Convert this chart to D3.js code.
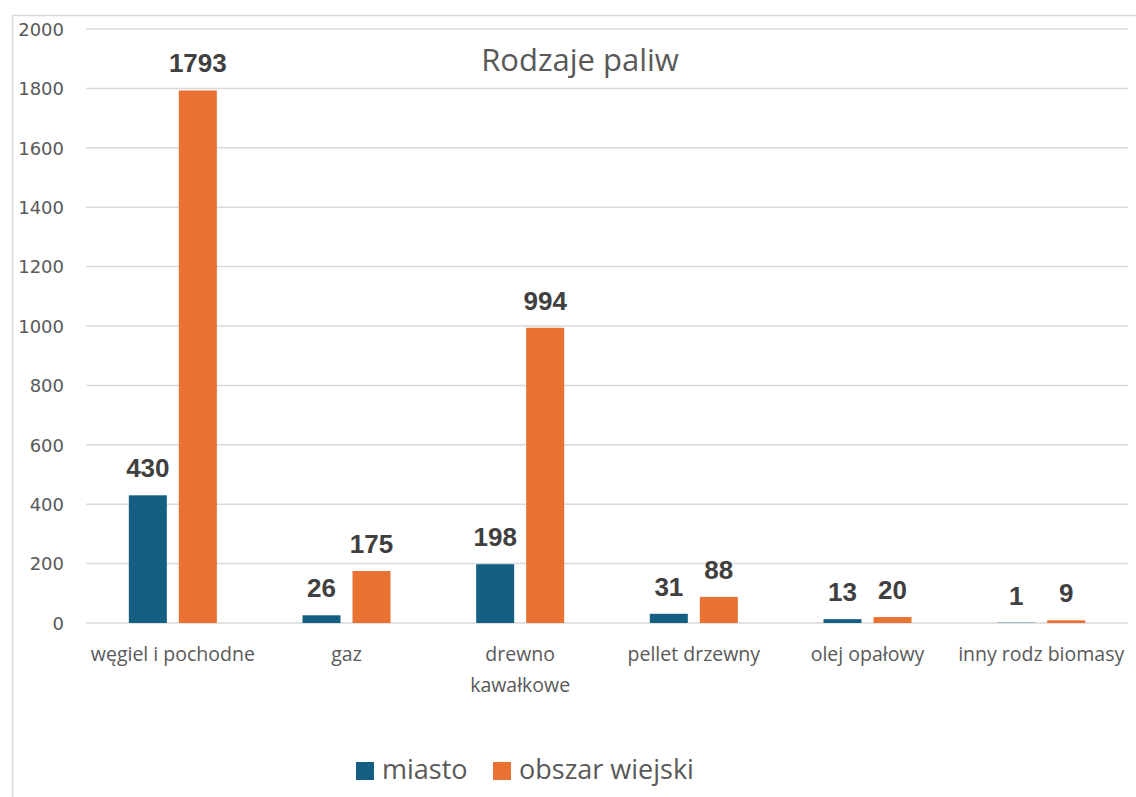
<!DOCTYPE html>
<html>
<meta charset="utf-8">
<style>
body { margin: 0; background: #fff; }
svg { display: block; }
.tick text { fill: #595959; font: 18px "DejaVu Sans", sans-serif; }
.cat { fill: #595959; font: 19.5px "Open Sans", sans-serif; }
.val { fill: #404040; font: bold 26px "Liberation Sans", Arial, sans-serif; }
.title { fill: #595959; font: 31px "Open Sans", sans-serif; }
.legend text { fill: #595959; font: 27px "Open Sans", sans-serif; }
</style>
<body>
<svg id="chart" width="1136" height="797"></svg>
<script src="https://d3js.org/d3.v7.min.js"></script>
<script>
var categories = ["węgiel i pochodne", "gaz", "drewno kawałkowe", "pellet drzewny", "olej opałowy", "inny rodz biomasy"];
var seriesNames = ["miasto", "obszar wiejski"];
var miasto = [430, 26, 198, 31, 13, 1];
var wiejski = [1793, 175, 994, 88, 20, 9];
var yTicks = [0, 200, 400, 600, 800, 1000, 1200, 1400, 1600, 1800, 2000];
var colors = ["#156082", "#E97132"];

var svg = d3.select("#chart");

// outer frame
svg.append("rect")
	.attr("x", 12.5).attr("y", 15.5)
	.attr("width", 1140).attr("height", 800)
	.attr("fill", "none").attr("stroke", "#d9d9d9").attr("stroke-width", 1.5);

var x = d3.scaleBand().domain(categories).range([86, 1128]);
var y = d3.scaleLinear().domain([0, 2000]).range([623, 29]);
var xs = d3.scaleBand().domain(seriesNames).range([-44, 44]).paddingInner(0.24).paddingOuter(0);

// gridlines
svg.append("g").selectAll("line")
	.data(yTicks)
	.enter().append("line")
	.attr("x1", 86).attr("x2", 1128)
	.attr("y1", function(d) { return y(d); })
	.attr("y2", function(d) { return y(d); })
	.attr("stroke", "#d9d9d9").attr("stroke-width", 1.5);

// y axis
var yAxis = svg.append("g")
	.attr("transform", "translate(64,0)")
	.call(d3.axisLeft(y).tickValues(yTicks).tickFormat(d3.format("d")).tickSize(0).tickPadding(0));
yAxis.select(".domain").remove();
yAxis.selectAll("text").attr("dy", "0.35em");

svg.append("text")
	.attr("class", "title")
	.attr("x", 580).attr("y", 71)
	.attr("text-anchor", "middle")
	.text("Rodzaje paliw");

var rows = categories.map(function(c, i) {
	return {cat: c, vals: [miasto[i], wiejski[i]]};
});

var grp = svg.selectAll(".grp")
	.data(rows)
	.enter().append("g")
	.attr("transform", function(d) { return "translate(" + (x(d.cat) + x.bandwidth() / 2) + ",0)"; });

grp.selectAll("rect")
	.data(function(d) { return d.vals.map(function(v, j) { return {s: seriesNames[j], v: v, j: j}; }); })
	.enter().append("rect")
	.attr("x", function(d) { return xs(d.s); })
	.attr("width", xs.bandwidth())
	.attr("y", function(d) { return y(d.v); })
	.attr("height", function(d) { return y(0) - y(d.v); })
	.attr("fill", function(d) { return colors[d.j]; });

grp.selectAll(".val")
	.data(function(d) { return d.vals.map(function(v, j) { return {s: seriesNames[j], v: v}; }); })
	.enter().append("text")
	.attr("class", "val")
	.attr("text-anchor", "middle")
	.attr("x", function(d) { return xs(d.s) + xs.bandwidth() / 2; })
	.attr("y", function(d) { return y(d.v) - 18; })
	.text(function(d) { return d.v; });

// category labels, wrap "drewno kawałkowe"
grp.append("text")
	.attr("class", "cat")
	.attr("text-anchor", "middle")
	.attr("y", 661)
	.each(function(d) {
		var t = d3.select(this);
		var parts = d.cat === "drewno kawałkowe" ? ["drewno", "kawałkowe"] : [d.cat];
		parts.forEach(function(p, k) {
			t.append("tspan").attr("x", 0).attr("dy", k ? 31 : 0).text(p);
		});
	});

// legend
var legend = svg.append("g").attr("class", "legend");
var lx = [356, 493];
seriesNames.forEach(function(s, i) {
	legend.append("rect")
		.attr("x", lx[i]).attr("y", 762)
		.attr("width", 18).attr("height", 18)
		.attr("fill", colors[i]);
	legend.append("text")
		.attr("x", lx[i] + 26).attr("y", 779)
		.text(s);
});
</script>
</body>
</html>
